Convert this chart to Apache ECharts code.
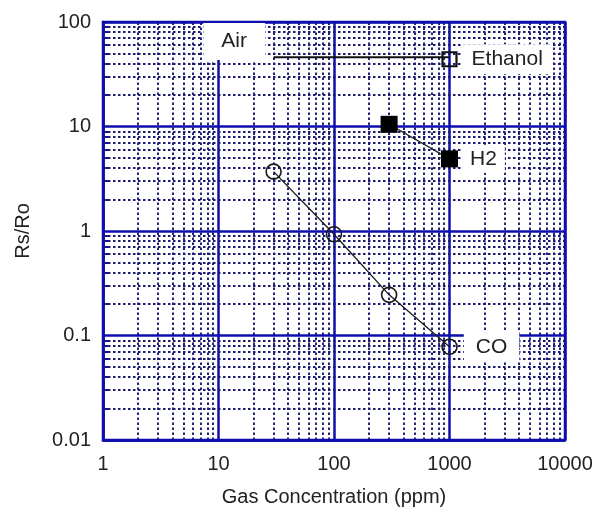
<!DOCTYPE html>
<html>
<head>
<meta charset="utf-8">
<script src="https://cdn.jsdelivr.net/npm/echarts@6/dist/echarts.min.js"></script>
<style>
  html, body { margin: 0; padding: 0; background: #fff; }
  #chart { width: 600px; height: 512px; }
</style>
</head>
<body>
<div id="chart"></div>
<script>
// Sensitivity characteristics: Rs/Ro versus gas concentration (log-log)
const xTicks = [1, 10, 100, 1000, 10000];
const yTicks = [0.01, 0.1, 1, 10, 100];
const xMinor = [2, 3, 4, 5, 6, 7, 8, 9,
                20, 30, 40, 50, 60, 70, 80, 90,
                200, 300, 400, 500, 600, 700, 800, 900,
                2000, 3000, 4000, 5000, 6000, 7000, 8000, 9000];
const yMinor = [0.02, 0.03, 0.04, 0.05, 0.06, 0.07, 0.08, 0.09,
                0.2, 0.3, 0.4, 0.5, 0.6, 0.7, 0.8, 0.9,
                2, 3, 4, 5, 6, 7, 8, 9,
                20, 30, 40, 50, 60, 70, 80, 90];

const airConc = [30, 1000];
const airRatio = [46, 46];
const ethanolConc = [1000];
const ethanolRatio = [44];
const h2Conc = [300, 1000];
const h2Ratio = [10.5, 4.9];
const coConc = [30, 100, 300, 1000];
const coRatio = [3.7, 0.93, 0.245, 0.078];

const pairs = (xs, ys) => xs.map((x, i) => [x, ys[i]]);

const majorBlue = '#0e0eae';
const minorBlue = '#1c1c72';
const textColor = '#222';
const font = 'Liberation Sans, Arial, Helvetica, sans-serif';

const majorStyle = { color: majorBlue, width: 2.5, type: 'solid' };

const boxLabel = (text, extra) => Object.assign({
  show: true,
  formatter: text,
  fontFamily: font,
  fontSize: 21,
  color: textColor,
  opacity: 1,
  backgroundColor: '#fff',
  lineHeight: 24
}, extra);

const chart = echarts.init(document.getElementById('chart'), null, { renderer: 'canvas' });

chart.setOption({
  animation: false,
  backgroundColor: '#fff',
  grid: {
    left: 103, right: 35, top: 22, bottom: 72,
    show: true,
    borderColor: majorBlue,
    borderWidth: 2.5,
    backgroundColor: 'transparent'
  },
  xAxis: {
    type: 'log',
    logBase: 10,
    min: 1,
    max: 10000,
    splitNumber: 4,
    name: 'Gas Concentration (ppm)',
    nameLocation: 'middle',
    nameGap: 47,
    nameTextStyle: { fontFamily: font, fontSize: 20, color: textColor },
    axisLine: { show: true, lineStyle: { color: majorBlue, width: 2.5 } },
    axisTick: { show: false },
    axisLabel: {
      customValues: xTicks,
      margin: 14,
      fontFamily: font,
      fontSize: 20,
      color: textColor,
      formatter: v => String(v)
    },
    splitLine: { show: true, lineStyle: majorStyle }
  },
  yAxis: {
    type: 'log',
    logBase: 10,
    min: 0.01,
    max: 100,
    splitNumber: 4,
    name: 'Rs/Ro',
    nameLocation: 'middle',
    nameRotate: 90,
    nameGap: 70,
    nameTextStyle: { fontFamily: font, fontSize: 20, color: textColor },
    axisLine: { show: true, lineStyle: { color: majorBlue, width: 2.5 } },
    axisTick: {
      show: true,
      inside: true,
      length: 7,
      customValues: yMinor,
      lineStyle: { color: majorBlue, width: 2 }
    },
    axisLabel: {
      customValues: yTicks,
      margin: 12,
      fontFamily: font,
      fontSize: 20,
      color: textColor,
      formatter: v => String(v)
    },
    // horizontal grid lines are drawn as marker lines below
    splitLine: { show: false }
  },
  series: [
    {
      // dotted minor grid plus the solid horizontal decade lines
      name: 'grid-lines',
      type: 'line',
      data: [],
      z: 1,
      silent: true,
      markLine: {
        z: 1,
        silent: true,
        symbol: ['none', 'none'],
        label: { show: false },
        animation: false,
        lineStyle: { color: minorBlue, width: 1.9, type: [2.5, 2.5] },
        emphasis: { disabled: true },
        data: xMinor.map(v => ({ xAxis: v }))
          .concat(yMinor.map(v => ({ yAxis: v })))
          .concat(yTicks.map(v => ({ yAxis: v, lineStyle: majorStyle })))
      }
    },
    {
      name: 'Air',
      type: 'line',
      z: 4,
      data: pairs(airConc, airRatio).map((p, i) => i === 0
        ? { value: p, label: boxLabel('Air', { position: [-70, -34], padding: [6, 18, 7, 18] }) }
        : { value: p }),
      symbol: 'circle',
      symbolSize: 0.5,
      lineStyle: { color: '#111', width: 2.2 },
      itemStyle: { color: '#111', opacity: 1 },
      emphasis: { disabled: true }
    },
    {
      name: 'Ethanol',
      type: 'line',
      z: 4,
      data: pairs(ethanolConc, ethanolRatio),
      symbol: 'rect',
      symbolSize: 14,
      itemStyle: { color: 'rgba(0,0,0,0)', borderColor: '#111', borderWidth: 2.2 },
      label: boxLabel('Ethanol', { position: 'right', distance: 4, padding: [3, 10, 3, 10] }),
      emphasis: { disabled: true }
    },
    {
      name: 'H2',
      type: 'line',
      z: 4,
      data: pairs(h2Conc, h2Ratio).map((p, i) => i === h2Conc.length - 1
        ? { value: p, label: boxLabel('H2', { position: 'right', distance: 4, padding: [2, 8, 2, 8] }) }
        : { value: p }),
      symbol: 'rect',
      symbolSize: 17,
      lineStyle: { color: '#222', width: 1.3 },
      itemStyle: { color: '#000' },
      emphasis: { disabled: true }
    },
    {
      name: 'CO',
      type: 'line',
      z: 4,
      data: pairs(coConc, coRatio).map((p, i) => i === coConc.length - 1
        ? { value: p, label: boxLabel('CO', { position: 'right', distance: 6, padding: [3, 12, 3, 12] }) }
        : { value: p }),
      symbol: 'circle',
      symbolSize: 15,
      lineStyle: { color: '#1a1a1a', width: 1.3 },
      itemStyle: { color: 'rgba(0,0,0,0)', borderColor: '#1a1a1a', borderWidth: 1.6 },
      emphasis: { disabled: true }
    }
  ]
});
</script>
</body>
</html>
